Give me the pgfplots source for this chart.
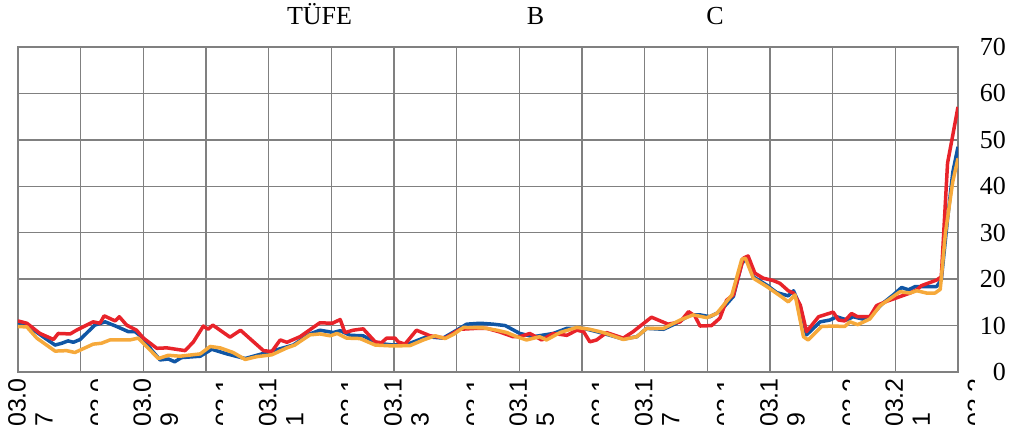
\documentclass[border=0pt]{standalone}
\usepackage{fontspec}
\setmainfont{Liberation Serif}
\newfontfamily\labfont{Liberation Sans}
\usepackage{pgfplots}
\pgfplotsset{compat=1.18}

\definecolor{sblue}{RGB}{16,86,165}
\definecolor{sred}{RGB}{232,35,42}
\definecolor{sorange}{RGB}{246,169,59}
\definecolor{sgrid}{RGB}{128,128,128}

% label pushed sideways; most of it gets covered later
\newcommand\alt[1]{\raisebox{-19pt}[17.9pt][0pt]{#1}}

\begin{document}
\begin{tikzpicture}
\begin{axis}[
    at={(0pt,0pt)}, anchor=south west,
    scale only axis,
    width=940pt, height=325pt,
    xmin=0, xmax=180, ymin=0, ymax=70,
    xtick={0,12,...,180},
    ytick={0,10,...,70},
    xticklabels={{03.0\\7},{\alt{03.0}},{03.0\\9},{\alt{03.1}},{03.1\\1},{\alt{03.1}},
                 {03.1\\3},{\alt{03.1}},{03.1\\5},{\alt{03.1}},{03.1\\7},{\alt{03.1}},
                 {03.1\\9},{\alt{03.2}},{03.2\\1},{\alt{03.2}}},
    grid=major,
    grid style={sgrid, line width=1.3pt},
    axis line style={sgrid, line width=1.3pt},
    major tick length=0pt,
    yticklabel pos=right,
    /pgf/number format/assume math mode=true,
    yticklabel style={anchor=east, inner sep=0pt, xshift=48pt,
        font=\fontsize{26}{30}\selectfont},
    xticklabel style={xshift=-10pt, rotate=90, anchor=north east, align=left,
        inner xsep=6pt, inner ysep=0pt,
        font=\labfont\fontsize{25}{27}\selectfont},
    every axis plot/.append style={line width=3.5pt, line join=round, mark=none},
]
% TUFE
\addplot[sblue] coordinates {
(0,10.6) (1.7,10.1) (4.9,7.5) (7.1,5.8) (8.4,6.2) (9.6,6.7) (10.6,6.4) (11.9,7.0)
(14.7,10.1) (16.7,10.8) (18.9,9.8) (21.1,8.7) (22.4,8.7) (24,7.3) (25.6,4.7)
(27.2,2.6) (28.8,2.8) (30,2.2) (31.3,3.1) (34.9,3.4) (37.1,4.9) (40,3.9) (43.5,2.9)
(48.3,4.4) (52.7,5.8) (55.9,8.2) (57.8,9.0) (60.4,8.5) (61.7,8.9) (63.6,7.9)
(66.1,7.8) (68.7,6.2) (71.9,5.8) (75.1,6.2) (78.3,7.6) (81.4,7.3) (84,9.0)
(85.9,10.3) (88.5,10.5) (91,10.3) (93.3,10.0) (96.1,8.3) (98.7,7.6) (102.5,8.3)
(105.1,9.4) (108.3,9.4) (110.8,8.7) (113.4,7.9) (115.9,7.1) (118.5,7.6) (120.4,9.4)
(123.6,9.2) (126.1,10.5) (128.7,12.3) (130.6,12.3) (132.5,11.9) (134.4,13.0)
(137,16.3) (138.6,23.4) (139.5,24.5) (140.8,20.5) (143.4,18.7) (145.3,17.1)
(147.5,16.4) (148.5,17.5) (149.8,14.1) (151,8.0) (153.6,10.8) (155.5,11.2)
(156.8,11.9) (158.7,11.2) (159.9,11.9) (161.8,11.4) (163.1,11.9) (165.7,14.9)
(167.6,16.6) (169.2,18.2) (170.5,17.7) (171.8,18.4) (173.4,18.4) (175.9,18.4)
(176.8,19.8) (178,33) (179,43) (180,48.5)
};
% B
\addplot[sred] coordinates {
(0,11.0) (1.7,10.5) (4.2,8.3) (6.8,7.0) (7.7,8.3) (10,8.2) (11.2,9.0) (14.4,10.8)
(15.7,10.5) (16.5,12.1) (18.6,11.0) (19.4,11.9) (20.8,10.1) (22.7,9.0) (24,7.3)
(26.6,5.1) (28.5,5.2) (32,4.6) (33.6,6.5) (35.5,9.9) (36.4,9.2) (37.3,10.1)
(40.6,7.5) (42.6,9.0) (47,4.6) (48.6,4.4) (50.2,6.9) (51.5,6.4) (54,7.6)
(57.8,10.6) (60.2,10.5) (61.7,11.3) (62.6,8.5) (64.2,9.0) (66.1,9.3) (68.4,6.5)
(69.6,6.3) (70.6,7.3) (72.2,7.3) (72.8,6.5) (74.1,6.0) (76.3,9.0) (78.9,7.8)
(81.8,7.3) (84.6,9.2) (87.8,9.4) (89.8,9.4) (92.3,8.6) (94.8,7.6) (96.1,7.6)
(98,8.3) (100.3,6.9) (102.5,8.3) (105.1,7.9) (107,9.0) (108.3,8.7) (109.5,6.5)
(110.8,6.9) (112.7,8.5) (115.9,7.3) (117.8,8.7) (121.3,11.8) (124.5,10.3)
(126.8,10.8) (128.4,13.0) (129.6,12.1) (130.6,9.9) (132.8,10.0) (134.4,11.6)
(135.7,15.5) (137,16.6) (138.9,24.5) (139.8,25.0) (141.1,21.3) (142.7,20.2)
(144.6,19.7) (145.9,19.1) (147.5,17.5) (148.5,17.0) (149.8,14.4) (151,8.7)
(153.3,11.9) (156.1,12.9) (157.1,11.2) (158.3,11.0) (159.6,12.6) (160.8,11.9)
(163.1,11.9) (164.4,14.3) (166.3,15.2) (170.8,17.0) (172.1,17.7) (173,18.6)
(175.9,19.8) (176.8,20.5) (178,45) (179,51) (180,57.1)
};
% C
\addplot[sorange] coordinates {
(0,9.8) (1.7,9.7) (3.6,7.3) (7.1,4.5) (9.3,4.6) (10.9,4.2) (14.4,6.0) (16,6.2)
(17.6,6.9) (21.4,6.9) (23,7.3) (24.6,5.5) (26.9,2.9) (28.8,3.6) (31,3.4) (34.9,3.9)
(36.8,5.5) (38.7,5.2) (41.2,4.2) (43.5,2.7) (45.7,3.3) (48.6,3.7) (51.5,5.2)
(53,5.8) (55.9,8.0) (57.8,8.2) (59.8,7.8) (61.1,8.3) (62.9,7.3) (65.5,7.2)
(68.4,5.8) (71.9,5.6) (75.1,5.7) (77.6,6.9) (79.9,7.8) (81.8,7.2) (83.4,8.1)
(85.3,9.6) (89.1,9.5) (91.7,9.0) (93.6,8.5) (95.5,7.6) (97.4,6.9) (99.9,7.6)
(101.2,6.9) (103.8,8.5) (107,9.6) (109.5,9.2) (112.1,8.5) (115.9,7.0) (118.5,7.6)
(120.4,9.4) (123.6,9.4) (126.8,11.2) (129.3,12.3) (131.9,11.7) (133.8,12.6)
(136.7,16.6) (138.6,24.3) (139.3,24.5) (140.8,20.2) (143.4,18.4) (146.2,16.2)
(147.5,15.1) (148.8,16.6) (150.4,7.6) (151.3,6.9) (153.9,9.8) (156.1,9.9)
(158.3,9.8) (159.3,10.8) (160.8,10.2) (163.1,11.4) (165.1,14.3) (168.9,17.3)
(170.8,17.0) (172.1,17.5) (174,17.0) (175.6,17.0) (176.6,17.8) (177.6,30)
(179,41) (180,46)
};
\end{axis}
% hide most of the pushed-aside labels, as in the source image
\foreach \k in {1,3,...,15}
  \fill[white] ({62.667pt*\k+17pt},-62pt) rectangle ({62.667pt*\k+32pt},-3pt);
\node[anchor=base, font=\fontsize{26}{30}\selectfont] at (301.5pt,347pt) {TÜFE};
\node[anchor=base, font=\fontsize{26}{30}\selectfont] at (517.5pt,347pt) {B};
\node[anchor=base, font=\fontsize{26}{30}\selectfont] at (697pt,347pt) {C};
\pgfresetboundingbox
\useasboundingbox (-18pt,-61pt) rectangle (992pt,372pt);
\end{tikzpicture}
\end{document}
